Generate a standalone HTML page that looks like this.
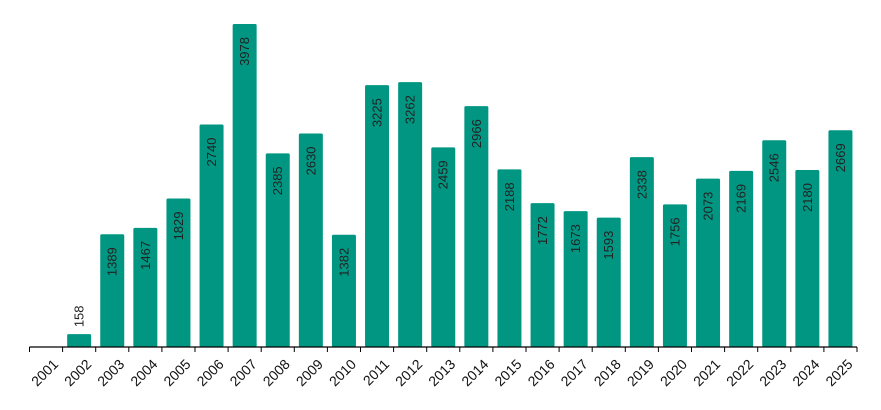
<!DOCTYPE html>
<html><head><meta charset="utf-8"><style>
html,body{margin:0;padding:0;background:#fff;width:881px;height:410px;overflow:hidden}
text{font-family:"Liberation Sans",sans-serif;font-size:13px;fill:#222}
text.xl{font-size:14px;fill:#111}
</style></head><body>
<svg id="chart" width="881" height="410" xmlns="http://www.w3.org/2000/svg"></svg>
<script>
const categories=["2001","2002","2003","2004","2005","2006","2007","2008","2009","2010","2011","2012","2013","2014","2015","2016","2017","2018","2019","2020","2021","2022","2023","2024","2025"];
const values=[0,158,1389,1467,1829,2740,3978,2385,2630,1382,3225,3262,2459,2966,2188,1772,1673,1593,2338,1756,2073,2169,2546,2180,2669];
const valueLabels=["","158","1389","1467","1829","2740","3978","2385","2630","1382","3225","3262","2459","2966","2188","1772","1673","1593","2338","1756","2073","2169","2546","2180","2669"];
const svg=document.getElementById('chart');
const NS='http://www.w3.org/2000/svg';
const x0=29.5,x1=857,base=347,yTop=24,maxV=3978;
const slot=(x1-x0)/categories.length;
function xScale(i){return x0+slot*i;}
function yScale(v){return base-(v/maxV)*(base-yTop);}
function mk(t,a){const e=document.createElementNS(NS,t);for(const k in a)e.setAttribute(k,a[k]);svg.appendChild(e);return e;}
values.forEach((v,i)=>{
  const cx=xScale(i)+slot/2;
  if(v>0){
    const r=mk('rect',{x:cx-12,y:yScale(v),width:24,height:base-yScale(v),fill:'#009682',rx:1.5});
    
    
    const inside=(base-yScale(v))>50;
    const ty=inside?yScale(v)+13:yScale(v)-7;
    const t=mk('text',{x:cx+4.5,y:ty,'text-anchor':inside?'end':'start',transform:`rotate(-90 ${cx+4.5} ${ty})`});
    t.textContent=valueLabels[i];
    
    
  }
  const lx=cx+6,ly=358;
  const l=mk('text',{class:'xl',x:lx,y:ly+10,'text-anchor':'end',transform:`rotate(-45 ${lx} ${ly})`});
  l.textContent=categories[i];
  
  
});
for(let i=0;i<=categories.length;i++){
  const t=mk('line',{x1:xScale(i),x2:xScale(i),y1:base,y2:base+5,stroke:'#000','stroke-width':1});
  
  
}
const ax=mk('line',{x1:x0,x2:x1,y1:base,y2:base,stroke:'#000','stroke-width':1.2});


</script>
</body></html>
